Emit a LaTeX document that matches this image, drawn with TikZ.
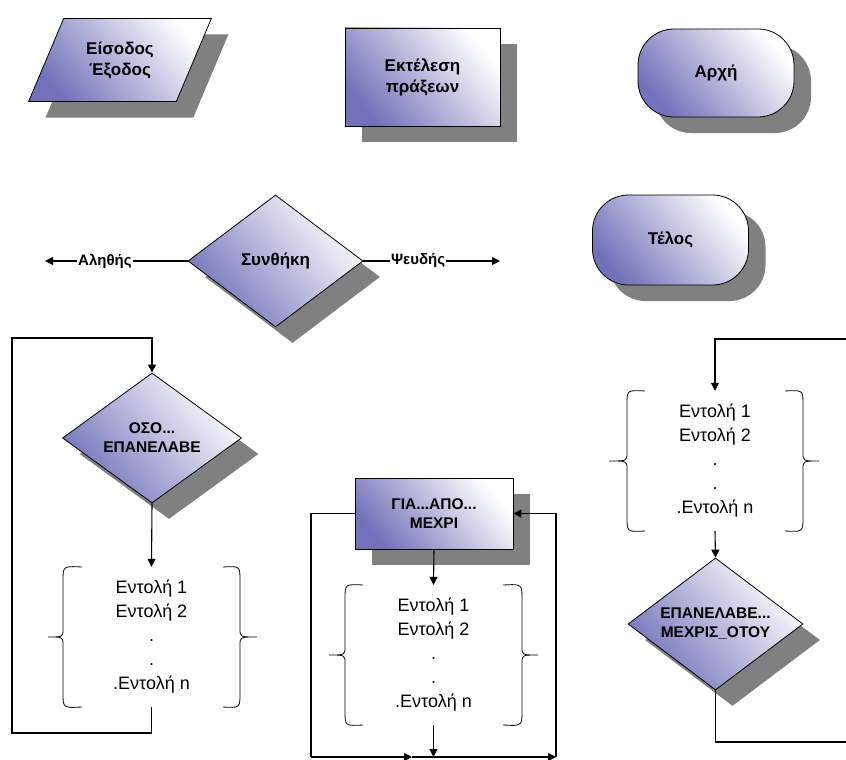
\documentclass[tikz,border=0pt]{standalone}
\usepackage{fontspec}
\setmainfont{Liberation Sans}
\usetikzlibrary{positioning, arrows.meta, shapes.geometric, shadows}
\definecolor{flowblue}{HTML}{7272BA}
\definecolor{shadowgray}{HTML}{808080}
\pgfdeclarehorizontalshading{flowshade}{100bp}{color(0bp)=(flowblue); color(25bp)=(flowblue); color(75bp)=(white); color(100bp)=(white)}

\begin{document}
\begin{tikzpicture}[
      x=1pt, y=-1pt,
      every node/.style={font=\fontsize{18}{24}\selectfont},
      flowbox/.style={draw=black, line width=0.8pt, shade, shading=flowshade, shading angle=40,
                      drop shadow={shadow xshift=17pt, shadow yshift=-16pt, fill=shadowgray, opacity=1},
                      align=center, font=\bfseries\fontsize{17}{21}\selectfont},
      loopbox/.style={flowbox, font=\bfseries\fontsize{15.5}{19}\selectfont},
      terminal/.style={flowbox, rectangle, rounded corners=36pt,
                       minimum width=156pt, minimum height=88pt},
      decision/.style={diamond, aspect=1.33, inner sep=0pt,
                       minimum width=175pt, minimum height=132pt},
      body/.style={align=center, minimum width=150pt, minimum height=140pt, inner sep=0pt},
      arr/.style={-{Triangle[length=8pt, width=8pt]}, line width=1.1pt},
      link/.style={line width=1.1pt},
      brace/.style={line width=0.8pt},
      lbl/.style={fill=white, inner sep=1pt, font=\bfseries\fontsize{15}{17}\selectfont},
    ]
    \useasboundingbox (0,0) rectangle (846,760);

    % symbols
    \node[flowbox, trapezium, trapezium left angle=62, trapezium right angle=118,
          trapezium stretches=true, minimum width=183pt, minimum height=83pt]
          (inout) at (120,60) {Είσοδος\\Έξοδος};
    \node[flowbox, minimum width=155pt, minimum height=98pt] (proc) at (422.5,77) {Εκτέλεση\\πράξεων};
    \node[terminal] (start) at (716,73) {Αρχή};
    \node[terminal, minimum height=90pt] (stop) at (670.5,240) {Τέλος};

    \node[flowbox, decision] (cond) at (275.5,261) {Συνθήκη};
    \coordinate (truept) at (45,261);
    \coordinate (falsept) at (500,261);
    \draw[arr] (cond.west) -- node[lbl, pos=0.58] {Αληθής} (truept);
    \draw[arr] (cond.east) -- node[lbl, pos=0.40] {Ψευδής} (falsept);

    % while loop
    \node[loopbox, decision, minimum width=179pt, minimum height=130pt] (whilec) at (152,438) {ΟΣΟ...\\ΕΠΑΝΕΛΑΒΕ};
    \node[body] (body1) at (151.5,637) {Εντολή 1\\Εντολή 2\\.\\.\\.Εντολή n};
    \coordinate (loop1bot) at (12,733);
    \coordinate (loop1top) at (12,338);
    \draw[arr] (whilec.south) -- (body1.north);
    \draw[arr] (body1.south) |- (loop1bot) -- (loop1top) -| (whilec.north);
    \draw[brace] (82,567) .. controls (63,566) .. (63,581) -- (63,629)
                 .. controls (63,637) .. (48,637) .. controls (63,637) .. (63,645)
                 -- (63,693) .. controls (63,708) .. (82,707);
    \draw[brace] (223,567) .. controls (240,566) .. (240,581) -- (240,629)
                 .. controls (240,637) .. (257,637) .. controls (240,637) .. (240,645)
                 -- (240,693) .. controls (240,708) .. (223,707);

    % for loop
    \node[loopbox, minimum width=158pt, minimum height=71pt] (fornode) at (434,513.5) {ΓΙΑ...ΑΠΟ...\\ΜΕΧΡΙ};
    \node[body] (body2) at (433.5,655) {Εντολή 1\\Εντολή 2\\.\\.\\.Εντολή n};
    \coordinate (forleft) at (311,757);
    \coordinate (formid) at (412,757);
    \coordinate (forright) at (556,757);
    \coordinate (forbot) at (433.5,757);
    \draw[arr] (fornode.south) -- (body2.north);
    \draw[link] (fornode.west) -| (forleft);
    \draw[arr] (forleft) -- (formid);
    \draw[arr] (formid) -- (forright);
    \draw[arr] (forright) |- (fornode.east);
    \draw[arr] (body2.south) -- (forbot);
    \draw[brace] (363,585) .. controls (345,584) .. (345,599) -- (345,647)
                 .. controls (345,655) .. (329,655) .. controls (345,655) .. (345,663)
                 -- (345,711) .. controls (345,726) .. (363,725);
    \draw[brace] (503,585) .. controls (522,584) .. (522,599) -- (522,647)
                 .. controls (522,655) .. (538,655) .. controls (522,655) .. (522,663)
                 -- (522,711) .. controls (522,726) .. (503,725);

    % repeat loop
    \node[body] (body3) at (715,461) {Εντολή 1\\Εντολή 2\\.\\.\\.Εντολή n};
    \node[loopbox, decision] (untilc) at (715.5,624) {ΕΠΑΝΕΛΑΒΕ...\\ΜΕΧΡΙΣ\_ΟΤΟΥ};
    \coordinate (loop3top) at (846,339);
    \coordinate (loop3bot) at (846,742);
    \draw[arr] (loop3top) -| (body3.north);
    \draw[arr] (body3.south) -- (untilc.north);
    \draw[link] (untilc.south) |- (loop3bot);
    \draw[brace] (645,391) .. controls (627,390) .. (627,405) -- (627,453)
                 .. controls (627,461) .. (609,461) .. controls (627,461) .. (627,469)
                 -- (627,517) .. controls (627,532) .. (645,531);
    \draw[brace] (785,391) .. controls (803,390) .. (803,405) -- (803,453)
                 .. controls (803,461) .. (819,461) .. controls (803,461) .. (803,469)
                 -- (803,517) .. controls (803,532) .. (785,531);
  \end{tikzpicture}
\end{document}
